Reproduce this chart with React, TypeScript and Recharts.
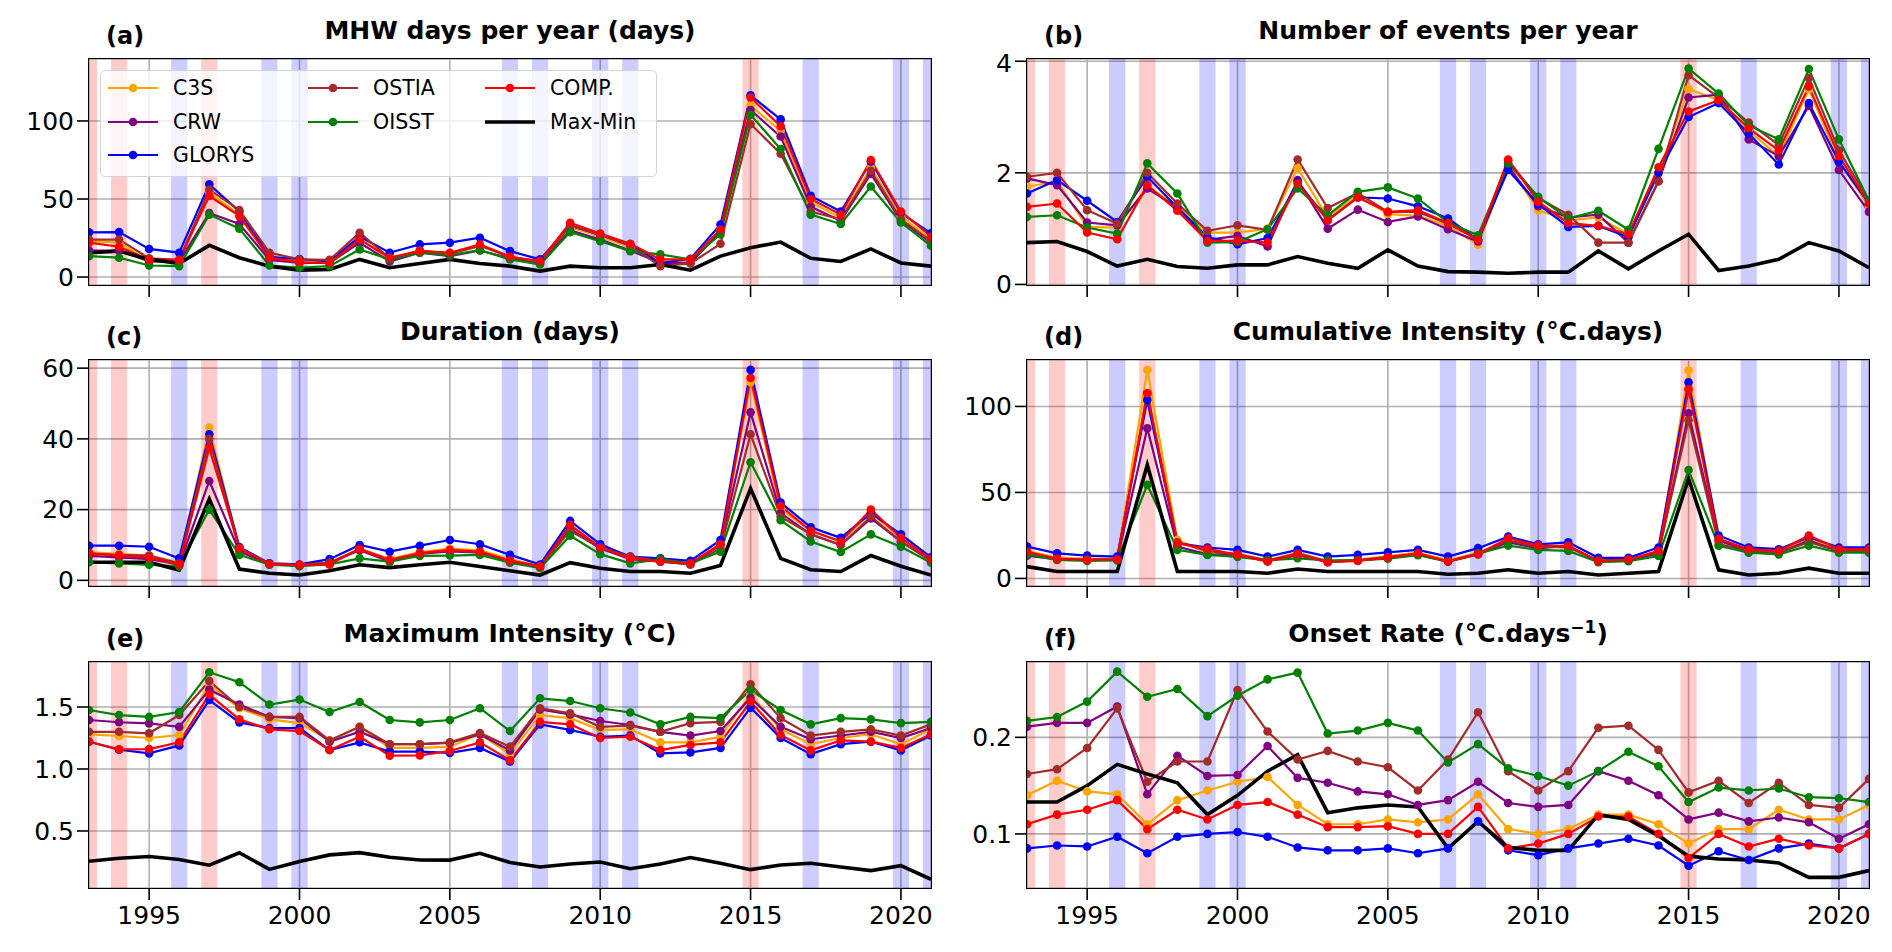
import React from "react";
import { CartesianGrid, Line, LineChart, ReferenceArea, XAxis, YAxis } from "recharts";

const years = [
  1993, 1994, 1995, 1996, 1997, 1998, 1999, 2000, 2001, 2002, 2003, 2004, 2005, 2006, 2007,
  2008, 2009, 2010, 2011, 2012, 2013, 2014, 2015, 2016, 2017, 2018, 2019, 2020, 2021,
];
const xTicks = [1995, 2000, 2005, 2010, 2015, 2020];
const redYears = [1993, 1994, 1997, 2015];
const blueYears = [1996, 1999, 2000, 2007, 2008, 2010, 2011, 2017, 2020, 2021];

// (a) MHW days per year
const daysC3S = [23, 22, 10, 10, 54, 40, 13, 10, 10, 25, 11, 17, 15, 20, 13, 10, 32, 26, 19, 10, 10, 30, 110, 93.5, 48, 38, 70, 39, 24];
const daysCRW = [17, 17, 10, 10, 41, 34, 11, 9, 9, 22, 10, 15.6, 13.4, 17, 12, 9, 30, 24, 17, 9, 9, 29, 107, 90, 45, 36, 66, 36, 22];
const daysGLORYS = [28.6, 28.8, 18, 15.6, 59.4, 42, 13, 11.5, 10, 26, 15.6, 20.9, 22, 25.2, 16.6, 11.3, 33, 27, 21, 9, 11.7, 33.7, 116.4, 101, 52, 42, 74, 41, 28];
const daysOSTIA = [24, 24, 12, 11, 56, 43, 15.6, 11.3, 11, 28.4, 12, 17, 15, 20, 13, 9.4, 33, 27, 20, 7, 8.7, 21.3, 98, 79, 42, 37, 68, 37, 23];
const daysOISST = [13.4, 12.4, 7.4, 7, 40, 31, 7.4, 6, 7, 17.7, 11.3, 15.6, 14, 17.2, 11.3, 8, 28.8, 23, 16.6, 14.5, 11.3, 27.3, 104, 82, 40, 34, 58, 35, 20];
const daysCOMP = [22, 19.4, 11, 11, 52, 39, 12.4, 9.4, 9, 24, 12.4, 16.6, 15.6, 20.9, 13, 10.2, 34.8, 27.9, 21.3, 11.3, 11.3, 30.5, 115, 96.7, 50, 40, 75, 42, 26];
const daysMaxMin = [15.6, 16.6, 11.3, 8.7, 20.3, 12.4, 7, 4.4, 4.8, 11.3, 6, 8.7, 11.3, 8.7, 7, 3.8, 7, 6, 6, 8, 4.4, 13.4, 18.8, 22.4, 12, 10, 18, 9, 7];

// (b) Number of events per year
const evC3S = [1.75, 1.85, 1.03, 1.02, 1.76, 1.4, 0.93, 0.93, 1.0, 2.08, 1.2, 1.6, 1.26, 1.23, 1.05, 0.71, 2.13, 1.33, 1.15, 1.2, 0.9, 2.0, 3.5, 3.3, 2.75, 2.3, 3.5, 2.2, 1.4];
const evCRW = [1.9, 1.78, 1.11, 1.06, 1.72, 1.38, 0.8, 0.87, 0.68, 1.87, 1.0, 1.34, 1.12, 1.22, 0.99, 0.77, 2.12, 1.4, 1.2, 1.25, 0.75, 1.85, 3.35, 3.4, 2.6, 2.3, 3.2, 2.05, 1.3];
const evGLORYS = [1.63, 1.87, 1.5, 1.12, 1.93, 1.38, 0.85, 0.72, 0.83, 1.84, 1.15, 1.56, 1.54, 1.4, 1.18, 0.8, 2.05, 1.44, 1.03, 1.05, 0.85, 2.0, 3.0, 3.25, 2.7, 2.15, 3.25, 2.2, 1.45];
const evOSTIA = [1.93, 2.0, 1.33, 1.09, 2.0, 1.45, 0.96, 1.06, 0.98, 2.24, 1.37, 1.64, 1.3, 1.3, 1.09, 0.8, 2.22, 1.55, 1.25, 0.75, 0.75, 1.85, 3.75, 3.35, 2.9, 2.5, 3.7, 2.4, 1.5];
const evOISST = [1.21, 1.24, 1.02, 0.91, 2.17, 1.63, 0.75, 0.76, 0.99, 1.72, 1.24, 1.66, 1.74, 1.54, 1.11, 0.88, 2.17, 1.57, 1.18, 1.32, 0.98, 2.43, 3.87, 3.42, 2.85, 2.6, 3.86, 2.6, 1.5];
const evCOMP = [1.39, 1.45, 0.93, 0.81, 1.78, 1.32, 0.78, 0.78, 0.75, 1.81, 1.15, 1.56, 1.3, 1.33, 1.1, 0.8, 2.24, 1.48, 1.1, 1.05, 0.9, 2.1, 3.1, 3.3, 2.8, 2.4, 3.55, 2.3, 1.45];
const evMaxMin = [0.75, 0.77, 0.59, 0.33, 0.45, 0.32, 0.29, 0.35, 0.35, 0.5, 0.38, 0.29, 0.62, 0.33, 0.23, 0.22, 0.2, 0.22, 0.22, 0.6, 0.28, 0.6, 0.9, 0.25, 0.33, 0.45, 0.75, 0.6, 0.3];

// (c) Duration
const durC3S = [8, 7.5, 7, 5, 43.2, 9, 4.8, 4.5, 5, 9, 6, 8, 9, 8.5, 6, 4, 15, 9.5, 6.5, 5.5, 4.6, 10.5, 56, 20, 14, 11, 19, 12, 6];
const durCRW = [6.9, 6.5, 6, 4.5, 28.1, 8.2, 4.5, 4.2, 5, 8.5, 5.3, 7.5, 8.2, 7.8, 5.5, 3.8, 14.5, 9, 6, 5.3, 4.5, 10, 47.5, 19, 13, 10, 17.5, 11, 5.5];
const durGLORYS = [9.8, 9.8, 9.5, 6.2, 41.3, 9.4, 4.8, 4.5, 6, 10, 8.1, 9.8, 11.4, 10.2, 7.2, 4.5, 16.8, 10.2, 6.7, 6.2, 5.5, 11.4, 59.5, 22, 15, 12, 19, 13, 6.5];
const durOSTIA = [7.5, 7.2, 7, 4.8, 40, 9, 4.6, 4.4, 5, 8.8, 5.6, 7.6, 8.5, 8, 5.6, 4, 14, 9.2, 6.7, 5.5, 4.5, 9, 41.3, 18, 13, 10, 18, 11, 5.5];
const durOISST = [5.1, 4.8, 4.4, 4, 20, 7.2, 4.4, 4, 4.5, 6.2, 5.3, 6.9, 7, 7.2, 5, 3.5, 12.6, 7.4, 4.8, 6, 4.8, 8.1, 33.4, 17, 11, 8, 13, 9.5, 5];
const durCOMP = [7.7, 7, 6.4, 4.5, 37.4, 9.1, 4.6, 4.3, 4.5, 8.9, 5.8, 7.7, 8.6, 8.1, 5.5, 3.9, 15.7, 9.3, 6.2, 5.3, 4.8, 10.2, 57.2, 21, 14, 11, 20, 12, 6];
const durMaxMin = [5.1, 5.1, 5.1, 2.9, 23, 3.2, 2, 1.5, 2.7, 4.4, 3.6, 4.4, 5.1, 3.9, 2.7, 1.5, 5, 3.4, 2.5, 2.5, 2, 4.2, 26, 6.2, 3, 2.5, 7, 4, 1.5];

// (d) Cumulative Intensity
const cumC3S = [16, 12, 11.5, 11.5, 121.2, 22.4, 15, 14.5, 10.5, 15, 10, 11, 13, 15, 10.5, 15, 22, 18.5, 19, 10.5, 11, 15, 121, 22, 17, 16, 23, 17, 16];
const cumCRW = [13.2, 11, 11, 11, 87.3, 18.5, 14, 13.5, 10, 13.5, 9.5, 10.5, 12, 14, 9.8, 14, 21, 17.5, 19, 10, 10.5, 14.5, 96, 22, 16, 15, 22, 16, 15.5];
const cumGLORYS = [18.5, 14.6, 13.3, 12.7, 103.8, 20.5, 18, 16.6, 12.7, 16.6, 12.7, 13.7, 15.2, 16.6, 12.7, 17.6, 24.3, 19.8, 21, 12, 12, 18, 114, 25, 18, 17, 24, 18, 18];
const cumOSTIA = [15, 11.5, 11, 11, 107.7, 21, 16, 14, 10.5, 14.5, 10, 10.5, 12.5, 14.5, 10, 14.5, 22, 18.5, 18, 10.5, 11, 15, 92, 20, 16, 15, 21, 16, 16];
const cumOISST = [14, 10.8, 10.2, 10.5, 54.4, 16.6, 13.7, 12.5, 10.5, 11.7, 10.5, 10.5, 11.5, 13.5, 9.8, 14.5, 19.1, 16.6, 16, 9.5, 10, 13, 63, 19, 15, 14, 19, 15, 15];
const cumCOMP = [15.6, 11.3, 10.8, 11, 107.7, 20.5, 17.2, 13.7, 9.8, 14.1, 9.4, 10.2, 12.1, 14.6, 9.8, 14.1, 23.4, 19.1, 19, 10, 11, 16, 110, 23, 17, 16, 25, 17, 17];
const cumMaxMin = [6.9, 4, 4, 4, 66, 4, 4, 4, 3, 5.5, 4, 4, 4, 4, 2.4, 3, 5, 3, 4, 2, 3, 4, 58, 5, 2, 3, 6, 3, 3];

// (e) Maximum Intensity
const maxC3S = [1.28, 1.266, 1.25, 1.274, 1.68, 1.49, 1.4, 1.37, 1.23, 1.34, 1.17, 1.17, 1.18, 1.28, 1.12, 1.435, 1.41, 1.315, 1.32, 1.215, 1.215, 1.26, 1.6, 1.32, 1.2, 1.25, 1.28, 1.2, 1.32];
const maxCRW = [1.395, 1.377, 1.368, 1.34, 1.64, 1.52, 1.42, 1.41, 1.22, 1.3, 1.2, 1.2, 1.21, 1.28, 1.15, 1.48, 1.44, 1.387, 1.355, 1.3, 1.27, 1.306, 1.575, 1.34, 1.24, 1.27, 1.3, 1.25, 1.33];
const maxGLORYS = [1.22, 1.155, 1.126, 1.19, 1.556, 1.376, 1.33, 1.33, 1.153, 1.215, 1.14, 1.14, 1.13, 1.17, 1.06, 1.36, 1.315, 1.26, 1.27, 1.126, 1.134, 1.17, 1.495, 1.25, 1.12, 1.2, 1.22, 1.15, 1.27];
const maxOSTIA = [1.3, 1.3, 1.288, 1.435, 1.71, 1.5, 1.42, 1.42, 1.23, 1.34, 1.2, 1.2, 1.215, 1.29, 1.18, 1.49, 1.45, 1.34, 1.35, 1.3, 1.37, 1.38, 1.683, 1.41, 1.27, 1.3, 1.32, 1.27, 1.36];
const maxOISST = [1.476, 1.435, 1.42, 1.46, 1.78, 1.7, 1.52, 1.56, 1.46, 1.54, 1.395, 1.376, 1.395, 1.49, 1.306, 1.57, 1.548, 1.49, 1.456, 1.36, 1.42, 1.41, 1.637, 1.476, 1.36, 1.41, 1.4, 1.37, 1.38];
const maxCOMP = [1.22, 1.159, 1.16, 1.215, 1.6, 1.4, 1.32, 1.306, 1.153, 1.26, 1.107, 1.11, 1.145, 1.215, 1.07, 1.38, 1.36, 1.25, 1.26, 1.153, 1.194, 1.215, 1.543, 1.274, 1.15, 1.23, 1.22, 1.17, 1.28];
const maxMaxMin = [0.256, 0.28, 0.294, 0.27, 0.224, 0.324, 0.19, 0.254, 0.307, 0.325, 0.288, 0.266, 0.265, 0.32, 0.246, 0.21, 0.233, 0.25, 0.196, 0.234, 0.286, 0.24, 0.188, 0.226, 0.24, 0.21, 0.18, 0.22, 0.11];

// (f) Onset Rate
const onC3S = [0.14, 0.155, 0.144, 0.141, 0.11, 0.135, 0.145, 0.154, 0.159, 0.13, 0.11, 0.11, 0.115, 0.112, 0.115, 0.141, 0.105, 0.1, 0.105, 0.12, 0.12, 0.11, 0.09, 0.105, 0.105, 0.125, 0.115, 0.115, 0.13];
const onCRW = [0.211, 0.215, 0.215, 0.232, 0.141, 0.181, 0.16, 0.161, 0.191, 0.158, 0.153, 0.144, 0.141, 0.13, 0.135, 0.154, 0.132, 0.128, 0.13, 0.165, 0.155, 0.14, 0.115, 0.122, 0.113, 0.117, 0.112, 0.095, 0.11];
const onGLORYS = [0.085, 0.088, 0.087, 0.097, 0.08, 0.097, 0.1, 0.102, 0.097, 0.086, 0.083, 0.083, 0.085, 0.08, 0.085, 0.113, 0.083, 0.078, 0.085, 0.09, 0.095, 0.088, 0.067, 0.082, 0.073, 0.085, 0.09, 0.085, 0.1];
const onOSTIA = [0.162, 0.167, 0.189, 0.23, 0.154, 0.175, 0.175, 0.249, 0.206, 0.177, 0.186, 0.175, 0.169, 0.145, 0.177, 0.226, 0.165, 0.145, 0.165, 0.21, 0.212, 0.187, 0.143, 0.155, 0.132, 0.153, 0.13, 0.127, 0.157];
const onOISST = [0.217, 0.221, 0.237, 0.268, 0.242, 0.25, 0.222, 0.243, 0.26, 0.267, 0.204, 0.207, 0.215, 0.207, 0.174, 0.193, 0.168, 0.16, 0.15, 0.165, 0.185, 0.17, 0.133, 0.148, 0.145, 0.147, 0.138, 0.137, 0.133];
const onCOMP = [0.11, 0.12, 0.125, 0.135, 0.105, 0.125, 0.115, 0.13, 0.133, 0.12, 0.107, 0.107, 0.108, 0.1, 0.1, 0.128, 0.085, 0.09, 0.1, 0.118, 0.118, 0.1, 0.075, 0.1, 0.087, 0.095, 0.088, 0.085, 0.1];
const onMaxMin = [0.133, 0.133, 0.15, 0.172, 0.162, 0.153, 0.12, 0.14, 0.165, 0.182, 0.122, 0.127, 0.13, 0.128, 0.085, 0.113, 0.086, 0.083, 0.083, 0.12, 0.115, 0.098, 0.077, 0.074, 0.073, 0.07, 0.055, 0.055, 0.062];

const SERIES = [
  { key: "C3S", color: "#ffa500" },
  { key: "CRW", color: "#800080" },
  { key: "GLORYS", color: "#0000ff" },
  { key: "OSTIA", color: "#a52a2a" },
  { key: "OISST", color: "#008000" },
  { key: "COMP.", color: "#ff0000" },
  { key: "Max-Min", color: "#000000" },
];

const FONT = '"DejaVu Sans", Verdana, sans-serif';
const PLOT_W = 842;
const PLOT_H = 226;
const COL_X = [89, 1027];
const ROW_Y = [59, 360, 662];

type Panel = {
  label: string;
  title: React.ReactNode;
  col: number;
  row: number;
  domain: [number, number];
  ticks: number[];
  digits: number;
  values: number[][];
};

const panels: Panel[] = [
  {
    label: "(a)", title: "MHW days per year (days)", col: 0, row: 0,
    domain: [-5.1, 139.7], ticks: [0, 50, 100], digits: 0,
    values: [daysC3S, daysCRW, daysGLORYS, daysOSTIA, daysOISST, daysCOMP, daysMaxMin],
  },
  {
    label: "(b)", title: "Number of events per year", col: 1, row: 0,
    domain: [-0.01, 4.04], ticks: [0, 2, 4], digits: 0,
    values: [evC3S, evCRW, evGLORYS, evOSTIA, evOISST, evCOMP, evMaxMin],
  },
  {
    label: "(c)", title: "Duration (days)", col: 0, row: 1,
    domain: [-1.6, 62.3], ticks: [0, 20, 40, 60], digits: 0,
    values: [durC3S, durCRW, durGLORYS, durOSTIA, durOISST, durCOMP, durMaxMin],
  },
  {
    label: "(d)", title: "Cumulative Intensity (°C.days)", col: 1, row: 1,
    domain: [-4.4, 127], ticks: [0, 50, 100], digits: 0,
    values: [cumC3S, cumCRW, cumGLORYS, cumOSTIA, cumOISST, cumCOMP, cumMaxMin],
  },
  {
    label: "(e)", title: "Maximum Intensity (°C)", col: 0, row: 2,
    domain: [0.04, 1.863], ticks: [0.5, 1.0, 1.5], digits: 1,
    values: [maxC3S, maxCRW, maxGLORYS, maxOSTIA, maxOISST, maxCOMP, maxMaxMin],
  },
  {
    label: "(f)",
    title: (
      <>
        Onset Rate (°C.days<sup style={{ fontSize: 17, verticalAlign: "9px", lineHeight: 0 }}>−1</sup>)
      </>
    ),
    col: 1, row: 2,
    domain: [0.044, 0.278], ticks: [0.1, 0.2], digits: 1,
    values: [onC3S, onCRW, onGLORYS, onOSTIA, onOISST, onCOMP, onMaxMin],
  },
];

const tickStyle = { fontSize: 25, fill: "#000", fontFamily: FONT };

function PanelChart({ p }: { p: Panel }) {
  const left = COL_X[p.col];
  const top = ROW_Y[p.row];
  const rows = years.map((year, i) => {
    const r: Record<string, number> = { year };
    SERIES.forEach((s, k) => (r[s.key] = p.values[k][i]));
    return r;
  });
  const bottomRow = p.row === 2;

  return (
    <>
      <div style={{ position: "absolute", left: left - 80, top: top - 10 }}>
        <LineChart
          width={80 + PLOT_W + 10}
          height={10 + PLOT_H + 50}
          data={rows}
          margin={{ top: 10, right: 10, left: 0, bottom: 0 }}
        >
          <CartesianGrid stroke="#b0b0b0" strokeWidth={1.6} />
          <XAxis
            dataKey="year"
            type="number"
            domain={[1993, 2021]}
            ticks={xTicks}
            allowDataOverflow
            height={50}
            tickSize={12}
            tickMargin={6}
            axisLine={false}
            tickLine={{ stroke: "#000", strokeWidth: 1.6 }}
            tick={tickStyle}
            tickFormatter={(v) => (bottomRow ? String(v) : "")}
          />
          <YAxis
            type="number"
            domain={p.domain}
            ticks={p.ticks}
            allowDataOverflow
            width={80}
            tickSize={12}
            tickMargin={3}
            axisLine={false}
            tickLine={{ stroke: "#000", strokeWidth: 1.6 }}
            tick={tickStyle}
            tickFormatter={(v) => Number(v).toFixed(p.digits)}
          />
          {redYears.map((y) => (
            <ReferenceArea
              key={"r" + y}
              x1={y - 0.27}
              x2={y + 0.27}
              fill="#ff0000"
              fillOpacity={0.2}
              stroke="none"
              ifOverflow="hidden"
            />
          ))}
          {blueYears.map((y) => (
            <ReferenceArea
              key={"b" + y}
              x1={y - 0.27}
              x2={y + 0.27}
              fill="#0000ff"
              fillOpacity={0.2}
              stroke="none"
              ifOverflow="hidden"
            />
          ))}
          {SERIES.map((s) => (
            <Line
              key={s.key}
              type="linear"
              dataKey={s.key}
              stroke={s.color}
              strokeWidth={s.key === "Max-Min" ? 3.6 : 2.2}
              dot={s.key === "Max-Min" ? false : { r: 4.3, fill: s.color, stroke: s.color, strokeWidth: 0 }}
              activeDot={false}
              isAnimationActive={false}
            />
          ))}
        </LineChart>
      </div>
      <div
        style={{
          position: "absolute",
          left: left - 0.8,
          top: top - 0.8,
          width: PLOT_W + 1.6,
          height: PLOT_H + 1.6,
          border: "1.6px solid #000",
          boxSizing: "border-box",
          pointerEvents: "none",
        }}
      />
      <div
        style={{
          position: "absolute",
          left,
          width: PLOT_W,
          top: top - 41,
          textAlign: "center",
          fontSize: 25,
          lineHeight: "25px",
          fontWeight: "bold",
          whiteSpace: "nowrap",
        }}
      >
        {p.title}
      </div>
      <div
        style={{
          position: "absolute",
          left: left + 17,
          top: top - 35,
          fontSize: 24,
          lineHeight: "25px",
          fontWeight: "bold",
        }}
      >
        {p.label}
      </div>
    </>
  );
}

const legendItems = [
  { i: 0, x: 108, y: 88 },
  { i: 1, x: 108, y: 122 },
  { i: 2, x: 108, y: 155 },
  { i: 3, x: 308, y: 88 },
  { i: 4, x: 308, y: 122 },
  { i: 5, x: 485, y: 88 },
  { i: 6, x: 485, y: 122 },
];

function LegendBox() {
  return (
    <>
      <div
        style={{
          position: "absolute",
          left: 100,
          top: 70,
          width: 557,
          height: 107,
          border: "1.5px solid #d4d4d4",
          borderRadius: 5,
          background: "rgba(255,255,255,0.8)",
          boxSizing: "border-box",
        }}
      />
      {legendItems.map(({ i, x, y }) => {
        const s = SERIES[i];
        return (
          <React.Fragment key={s.key}>
            <svg style={{ position: "absolute", left: x, top: y - 8 }} width={50} height={16}>
              <line x1={0} y1={8} x2={50} y2={8} stroke={s.color} strokeWidth={s.key === "Max-Min" ? 3.6 : 2.2} />
              {s.key !== "Max-Min" && <circle cx={25} cy={8} r={4.3} fill={s.color} />}
            </svg>
            <div
              style={{
                position: "absolute",
                left: x + 65,
                top: y - 12,
                fontSize: 20.5,
                lineHeight: "24px",
                whiteSpace: "nowrap",
              }}
            >
              {s.key}
            </div>
          </React.Fragment>
        );
      })}
    </>
  );
}

export default function App() {
  return (
    <div
      style={{
        position: "relative",
        width: 1892,
        height: 952,
        background: "#fff",
        fontFamily: FONT,
        color: "#000",
        overflow: "hidden",
      }}
    >
      <style>{"body{margin:0}"}</style>
      {panels.map((p) => (
        <PanelChart key={p.label} p={p} />
      ))}
      <LegendBox />
    </div>
  );
}
